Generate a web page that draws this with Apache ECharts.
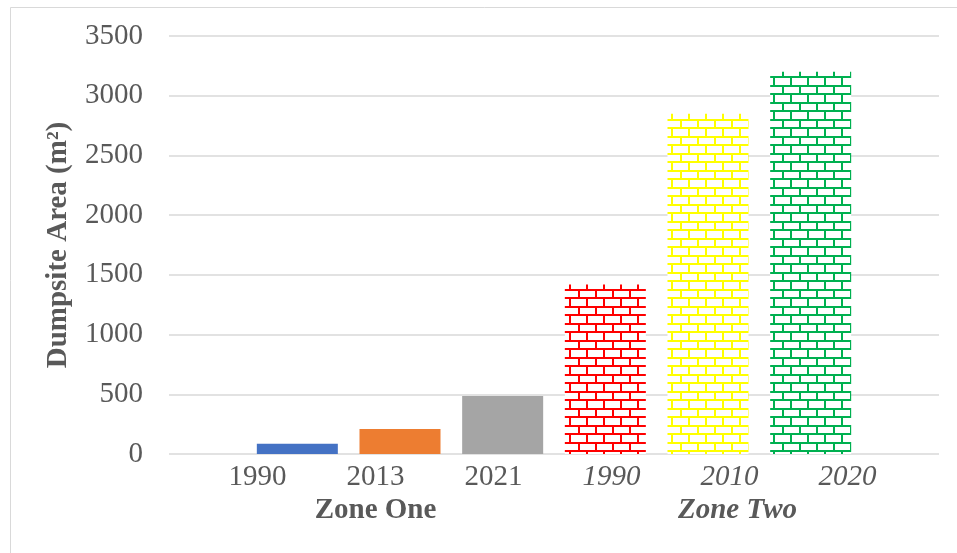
<!DOCTYPE html>
<html>
<head>
<meta charset="utf-8">
<script src="https://cdn.jsdelivr.net/npm/echarts@6/dist/echarts.min.js"></script>
<style>
  html, body { margin: 0; padding: 0; background: #fff; }
  #chart { width: 957px; height: 553px; }
</style>
</head>
<body>
<div id="chart"></div>
<script>
// data
const years = ['1990', '2013', '2021', '1990', '2010', '2020']
const zones = ['', 'Zone One', '', '', 'Zone Two', '']
const areas = [85, 210, 485, 1420, 2850, 3200]
const colors = ['#4472c4', '#ed7d31', '#a5a5a5', '#ff0000', '#ffff00', '#00b050']
const brickBars = [false, false, false, true, true, true]
const yTicks = [0, 500, 1000, 1500, 2000, 2500, 3000, 3500]

const FONT = "'Liberation Serif', 'Times New Roman', serif"
const TEXT = '#595959'
const SIZE = 29

// horizontal brick fill, like the excel pattern
function brick(color) {
  const c = document.createElement('canvas')
  c.width = 17
  c.height = 17
  const g = c.getContext('2d')
  g.fillStyle = '#fff'
  g.fillRect(0, 0, 17, 17)
  g.fillStyle = color
  g.fillRect(0, 0, 17, 2)
  g.fillRect(0, 8, 17, 2)
  g.fillRect(0, 2, 2, 6)
  g.fillRect(8, 10, 2, 7)
  return c
}

const barData = areas.map((v, i) => ({
  value: [i, v],
  itemStyle: {
    color: brickBars[i] ? { image: brick(colors[i]), repeat: 'repeat' } : colors[i]
  }
}))

const chart = echarts.init(document.getElementById('chart'))
const option = {
  animation: false,
  backgroundColor: '#fff',
  graphic: [{
    type: 'rect',
    shape: { x: 10.5, y: 7.5, width: 1000, height: 700 },
    style: { fill: 'none', stroke: '#d9d9d9', lineWidth: 1 },
    silent: true
  }],
  grid: [
    { left: 169, right: 18, top: 36, bottom: 99 },
    { left: 198.5, width: 708, top: 36, bottom: 99 }
  ],
  xAxis: [
    {
      type: 'value', gridIndex: 0, min: -1.25, max: 6.25,
      show: false
    },
    {
      type: 'category', gridIndex: 1, data: years, position: 'bottom',
      axisLine: { show: false }, axisTick: { show: false },
      axisLabel: {
        interval: 0, margin: 9, fontFamily: FONT, fontSize: SIZE, color: TEXT,
        formatter: (v, i) => i >= 3 ? '{it|' + v + '}' : v,
        rich: { it: { fontFamily: FONT, fontSize: SIZE, color: TEXT, fontStyle: 'italic' } }
      }
    },
    {
      type: 'category', gridIndex: 1, data: zones, position: 'bottom',
      axisLine: { show: false }, axisTick: { show: false },
      axisLabel: {
        interval: 0, margin: 42, fontFamily: FONT, fontSize: SIZE, color: TEXT, fontWeight: 'bold',
        formatter: (v, i) => i >= 3 ? '{it|' + v + '}' : v,
        rich: { it: { fontFamily: FONT, fontSize: SIZE, color: TEXT, fontWeight: 'bold', fontStyle: 'italic', padding: [0, 0, 0, 16] } }
      }
    }
  ],
  yAxis: [
    {
      type: 'value', gridIndex: 0,
      min: yTicks[0], max: yTicks[yTicks.length - 1], interval: 500,
      name: 'Dumpsite Area (m²)',
      nameLocation: 'middle',
      nameGap: 96,
      nameTextStyle: { fontFamily: FONT, fontSize: SIZE, fontWeight: 'bold', color: TEXT },
      axisLine: { show: false }, axisTick: { show: false },
      axisLabel: {
        margin: 26, fontFamily: FONT, fontSize: SIZE, color: TEXT,
        formatter: v => String(v)
      },
      splitLine: { lineStyle: { color: '#d9d9d9', width: 1.5 } }
    },
    { type: 'value', gridIndex: 1, show: false }
  ],
  series: [{
    type: 'bar',
    xAxisIndex: 0,
    yAxisIndex: 0,
    barWidth: 81,
    data: barData
  }]
}
chart.setOption(option)
</script>
</body>
</html>
